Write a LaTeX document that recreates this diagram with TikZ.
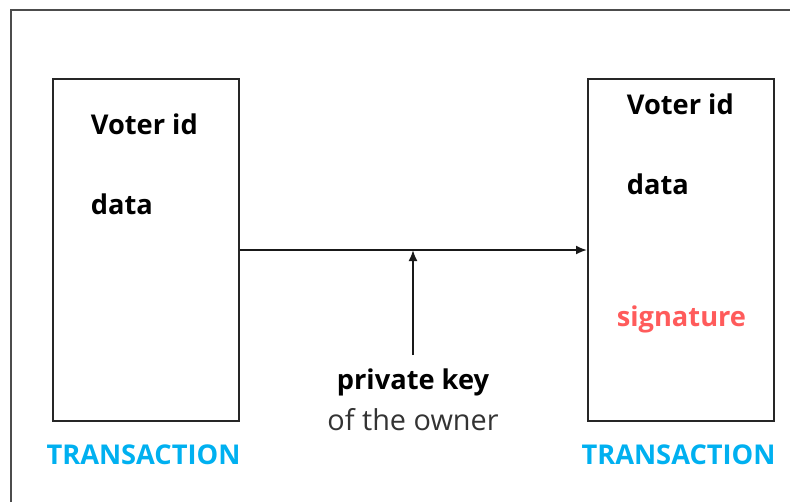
\documentclass[tikz,border=0pt]{standalone}
\usepackage{fontspec}
\setmainfont{Open Sans}
\usepackage{xcolor}
\usetikzlibrary{arrows.meta, positioning, calc}

\definecolor{txblue}{HTML}{00B0F0}
\definecolor{sigred}{HTML}{FF5B5B}

\begin{document}
\begin{tikzpicture}[
    box/.style={rectangle, draw=black!85, line width=1.1pt, minimum width=3.72cm, minimum height=6.84cm},
    field/.style={anchor=west, inner sep=0pt, font=\fontsize{15.5}{19}\selectfont\bfseries},
    caption/.style={inner sep=0pt, text=txblue, font=\fontsize{15.5}{19}\selectfont\bfseries},
    arrow/.style={-{Latex[length=2.2mm, width=1.8mm]}, line width=1.1pt, draw=black!90}
]
    \useasboundingbox (0,0) rectangle (15.8,-10.04);
    % outer frame (only left and top edges show)
    \draw[black!70, line width=0.8pt] (0.22,-10.04) |- (15.8,-0.2);

    % left transaction
    \node[box] (tx-left) at (2.92,-5.0) {};
    \node[field] (left-voter) at (1.81,-2.48) {Voter id};
    \node[field] (left-data) at (1.81,-4.08) {data};
    \node[caption] (left-cap) at (2.87,-9.1) {TRANSACTION};

    % right transaction
    \node[box] (tx-right) at (13.62,-5.0) {};
    \node[field] (right-voter) at (12.53,-2.08) {Voter id};
    \node[field] (right-data) at (12.53,-3.68) {data};
    \node[field, text=sigred] (right-sig) at (12.33,-6.38) {signature};
    \node[caption] (right-cap) at (13.57,-9.1) {TRANSACTION};

    % signing key
    \node[inner sep=0pt, font=\fontsize{15.5}{19}\selectfont\bfseries] (key) at (8.26,-7.64) {private key};
    \node[inner sep=0pt, text=black!80, font=\fontsize{16.4}{20}\selectfont] (owner) at (8.26,-8.4) {of the owner};
    \coordinate (key-tail) at (8.26,-7.1);

    \draw[arrow] (tx-left.east) -- (tx-right.west);
    \draw[arrow] (key-tail) -- (key-tail |- tx-left.east);
\end{tikzpicture}
\end{document}
